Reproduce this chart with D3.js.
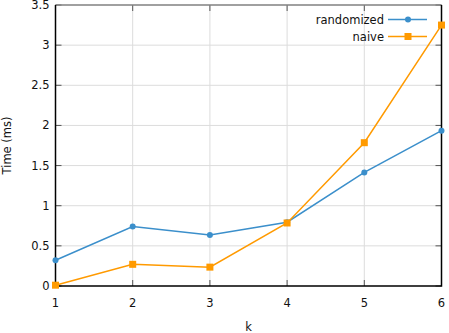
<!DOCTYPE html>
<html>
<head>
<meta charset="utf-8">
<script src="https://cdn.jsdelivr.net/npm/d3@7"></script>
<style>
  body { margin: 0; background: #fff; }
  svg { display: block; font-family: "DejaVu Sans", sans-serif; }
  .grid line { stroke: #dcdcdc; stroke-width: 1; }
</style>
</head>
<body>
<svg id="chart" width="449" height="333"></svg>
<script>
// data
const ks = [1, 2, 3, 4, 5, 6];
const randomized = [0.32, 0.74, 0.635, 0.795, 1.415, 1.935];
const naive = [0.01, 0.27, 0.235, 0.785, 1.785, 3.25];
const yTicks = [0, 0.5, 1, 1.5, 2, 2.5, 3, 3.5];
const seriesNames = ["randomized", "naive"];
const seriesColors = ["#3b8fcb", "#ff9a00"];

const width = 449, height = 333;
const margin = { left: 55.5, right: 7.5, top: 5, bottom: 47 };
const svg = d3.select("#chart");

const x = d3.scaleLinear().domain([1, 6]).range([margin.left, width - margin.right]);
const y = d3.scaleLinear().domain([0, 3.5]).range([height - margin.bottom, margin.top]);

// grid
const grid = svg.append("g").attr("class", "grid");
grid.selectAll(".gy").data(yTicks.slice(1, -1)).enter().append("line")
    .attr("x1", x.range()[0]).attr("x2", x.range()[1])
    .attr("y1", d => y(d)).attr("y2", d => y(d));
grid.selectAll(".gx").data(ks.slice(1, -1)).enter().append("line")
    .attr("y1", y.range()[0]).attr("y2", y.range()[1])
    .attr("x1", d => x(d)).attr("x2", d => x(d));

// inward ticks on all sides
const tickLen = 6;
const ticks = svg.append("g").attr("stroke", "#555").attr("stroke-width", 1);
ticks.selectAll(".tl").data(yTicks).enter().append("line")
    .attr("x1", x(1)).attr("x2", x(1) + tickLen).attr("y1", d => y(d)).attr("y2", d => y(d));
ticks.selectAll(".tr").data(yTicks).enter().append("line")
    .attr("x1", x(6)).attr("x2", x(6) - tickLen).attr("y1", d => y(d)).attr("y2", d => y(d));
ticks.selectAll(".tb").data(ks).enter().append("line")
    .attr("y1", y(0)).attr("y2", y(0) - tickLen).attr("x1", d => x(d)).attr("x2", d => x(d));
ticks.selectAll(".tt").data(ks).enter().append("line")
    .attr("y1", y(3.5)).attr("y2", y(3.5) + tickLen).attr("x1", d => x(d)).attr("x2", d => x(d));

// border
svg.append("line").attr("x1", x(1)).attr("x2", x(6)).attr("y1", y(3.5)).attr("y2", y(3.5))
    .attr("stroke", "#808080").attr("stroke-width", 1.5);
svg.append("path")
    .attr("d", "M" + x(1) + "," + y(3.5) + " L" + x(1) + "," + y(0) + " L" + x(6) + "," + y(0) + " L" + x(6) + "," + y(3.5))
    .attr("fill", "none").attr("stroke", "#000").attr("stroke-width", 1.5);

// tick labels
svg.append("g").selectAll("text").data(yTicks).enter().append("text")
    .attr("x", x(1) - 6).attr("y", d => y(d)).attr("dy", "0.35em")
    .attr("text-anchor", "end").attr("font-size", 11.5).attr("fill", "#111")
    .text(d => d3.format("")(d));
svg.append("g").selectAll("text").data(ks).enter().append("text")
    .attr("x", d => x(d)).attr("y", y(0) + 21)
    .attr("text-anchor", "middle").attr("font-size", 11.5).attr("fill", "#111")
    .text(d => d);

// axis titles
svg.append("text").attr("x", (x(1) + x(6)) / 2).attr("y", 331)
    .attr("text-anchor", "middle").attr("font-size", 11.5).attr("fill", "#111").text("k");
svg.append("text").attr("transform", "translate(11," + (y(0) + y(3.5)) / 2 + ") rotate(-90)")
    .attr("text-anchor", "middle").attr("font-size", 11.5).attr("fill", "#111").text("Time (ms)");

// series
const seriesData = [randomized, naive];
const line = d3.line().x((d, i) => x(ks[i])).y(d => y(d));
seriesData.forEach((vals, si) => {
    const g = svg.append("g");
    g.append("path").datum(vals).attr("d", line)
        .attr("fill", "none").attr("stroke", seriesColors[si]).attr("stroke-width", 1.5);
    if (si === 0) {
        g.selectAll("circle").data(vals).enter().append("circle")
            .attr("cx", (d, i) => x(ks[i])).attr("cy", d => y(d)).attr("r", 3)
            .attr("fill", seriesColors[si]);
    } else {
        g.selectAll("rect").data(vals).enter().append("rect")
            .attr("x", (d, i) => x(ks[i]) - 3.5).attr("y", d => y(d) - 3.5)
            .attr("width", 7).attr("height", 7).attr("fill", seriesColors[si]);
    }
});

// legend
const legend = svg.append("g");
seriesNames.forEach((name, i) => {
    const ly = 19.5 + i * 17;
    legend.append("text").attr("x", 384).attr("y", ly).attr("dy", "0.35em")
        .attr("text-anchor", "end").attr("font-size", 11.5).attr("fill", "#111").text(name);
    legend.append("line").attr("x1", 388).attr("x2", 427).attr("y1", ly).attr("y2", ly)
        .attr("stroke", seriesColors[i]).attr("stroke-width", 1.5);
    if (i === 0) {
        legend.append("circle").attr("cx", 408).attr("cy", ly).attr("r", 3).attr("fill", seriesColors[i]);
    } else {
        legend.append("rect").attr("x", 404.5).attr("y", ly - 3.5).attr("width", 7).attr("height", 7)
            .attr("fill", seriesColors[i]);
    }
});
</script>
</body>
</html>
